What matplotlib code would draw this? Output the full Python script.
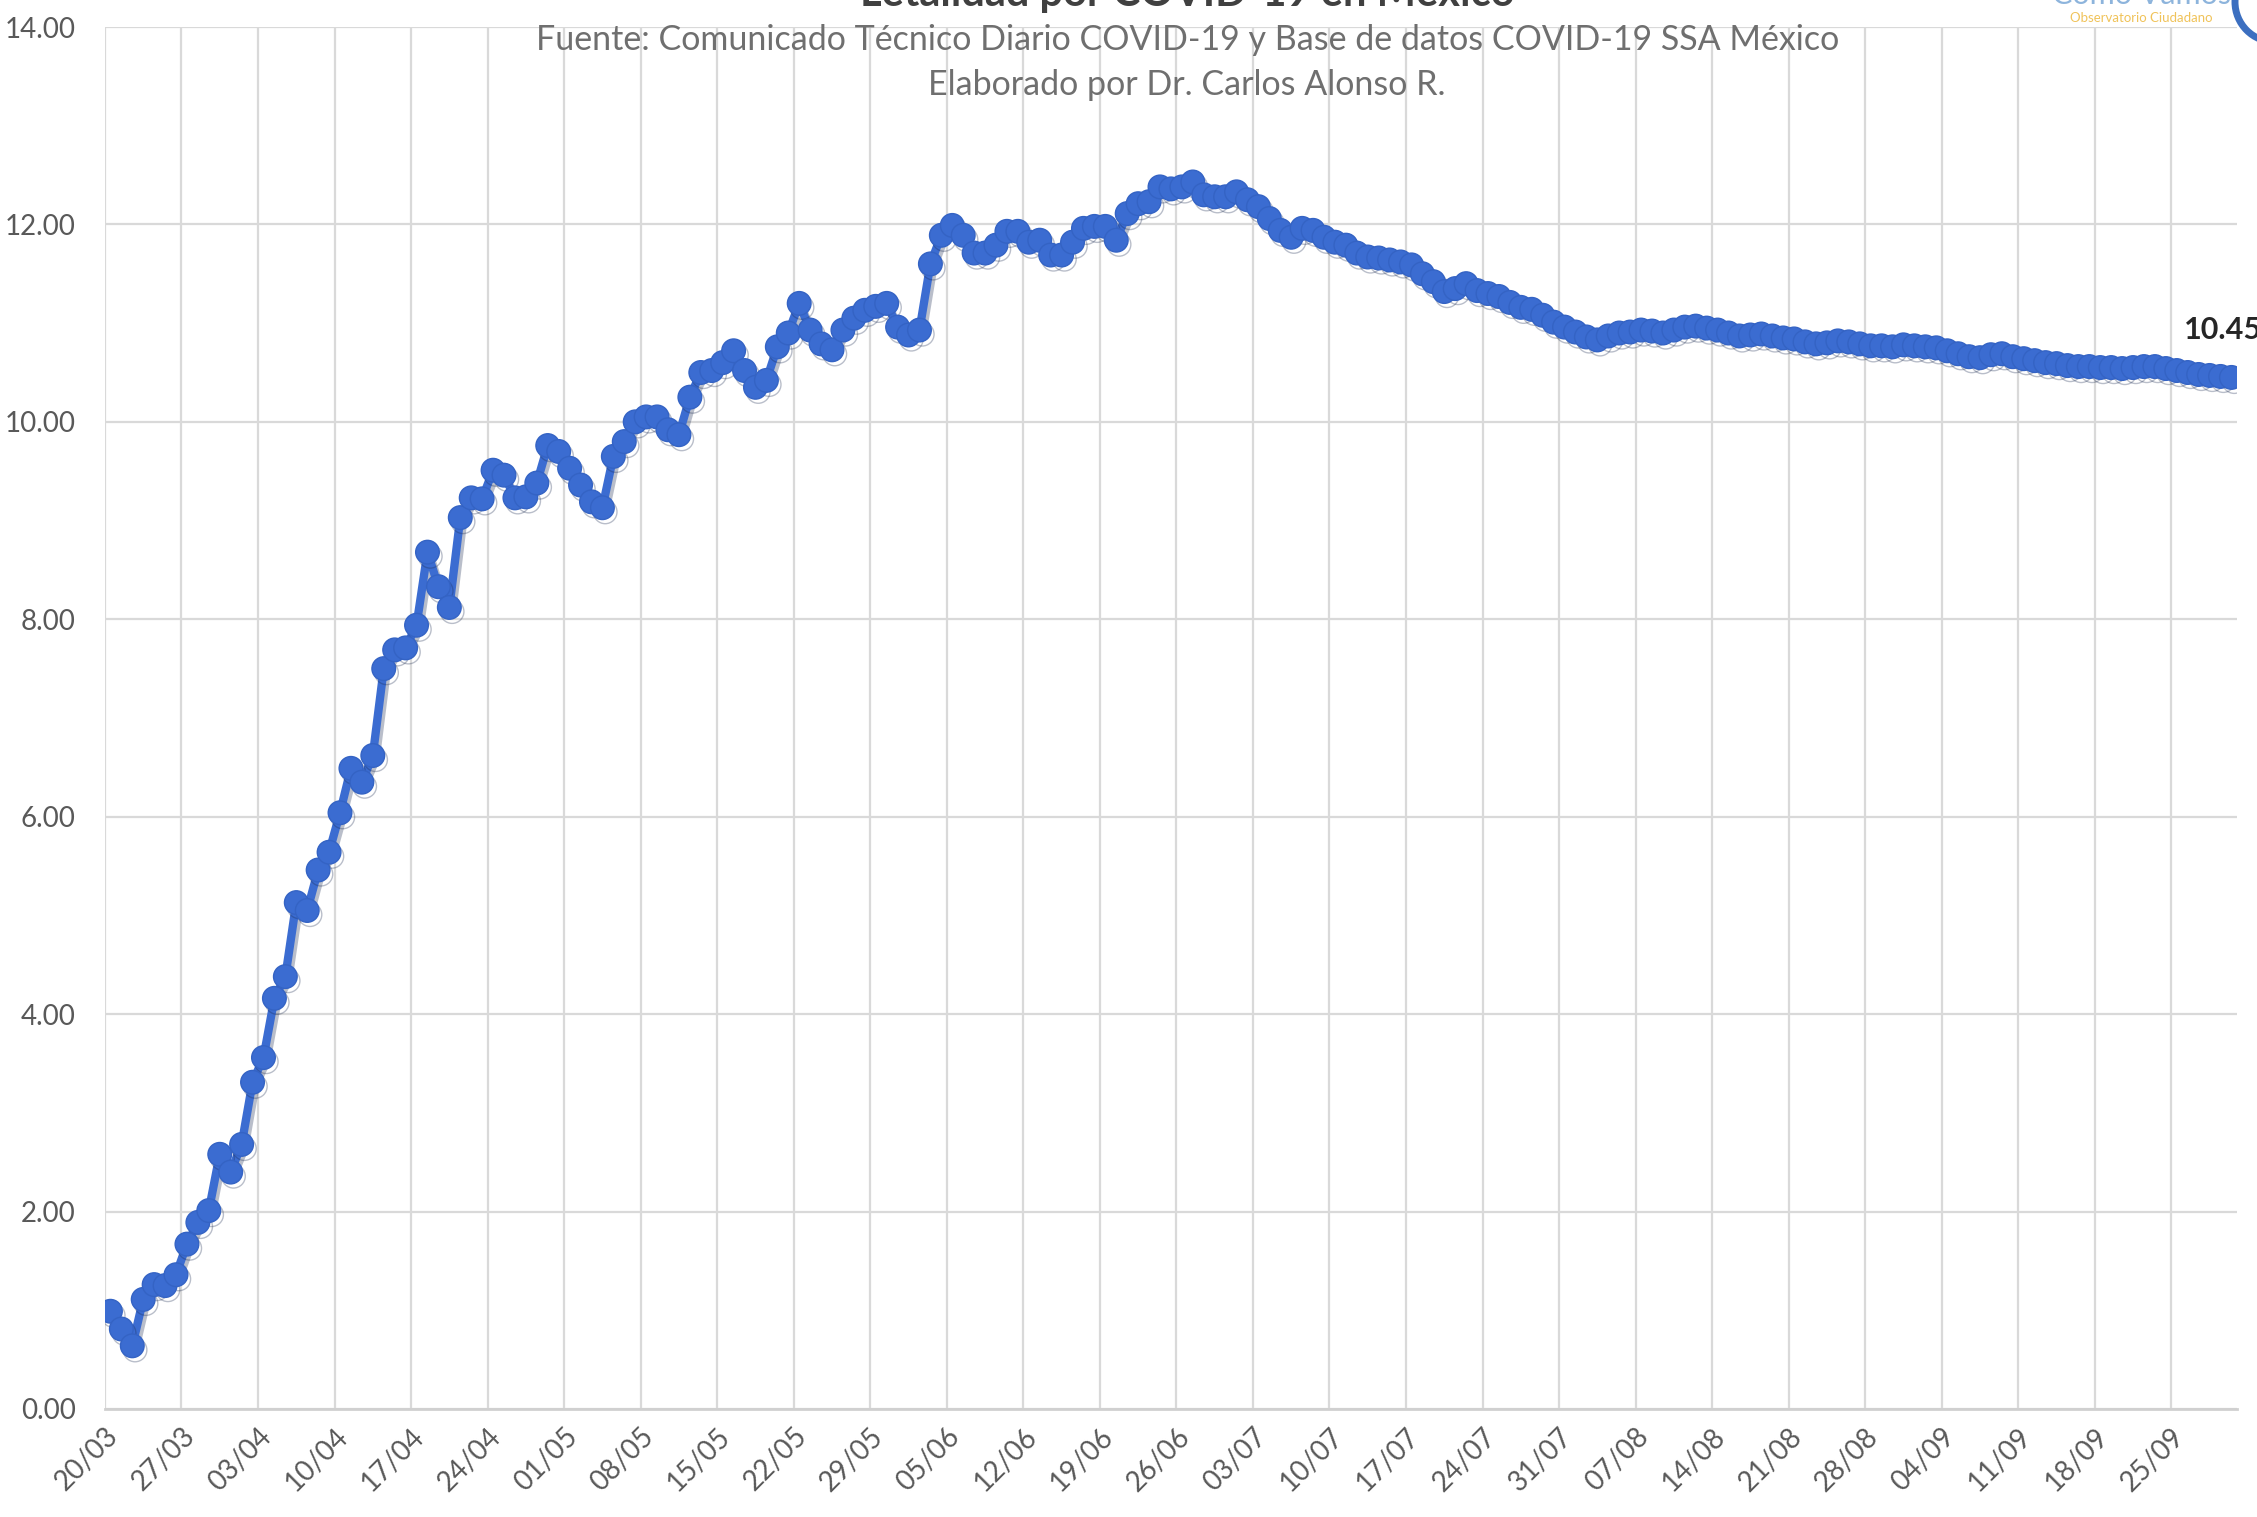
import matplotlib
matplotlib.use('Agg')
import matplotlib.pyplot as plt
import matplotlib.patheffects as pe
from matplotlib.patches import Ellipse
import numpy as np

plt.rcParams['font.family'] = ['Lato', 'DejaVu Sans']

# Daily case fatality (%) from 20/03 to 30/09
letalidad = [
    0.99, 0.81, 0.64, 1.11, 1.26, 1.25, 1.36, 1.67, 1.89, 2.01,
    2.58, 2.40, 2.68, 3.31, 3.56, 4.16, 4.38, 5.13, 5.05, 5.46,
    5.64, 6.04, 6.49, 6.35, 6.62, 7.50, 7.69, 7.71, 7.94, 8.68,
    8.33, 8.12, 9.03, 9.23, 9.22, 9.51, 9.46, 9.23, 9.24, 9.38,
    9.76, 9.70, 9.53, 9.36, 9.19, 9.13, 9.65, 9.80, 10.00, 10.05,
    10.05, 9.92, 9.87, 10.25, 10.50, 10.52, 10.60, 10.72, 10.52, 10.35,
    10.42, 10.76, 10.90, 11.20, 10.93, 10.79, 10.73, 10.93, 11.05, 11.13,
    11.17, 11.20, 10.96, 10.88, 10.93, 11.60, 11.89, 11.99, 11.89, 11.71,
    11.71, 11.79, 11.93, 11.93, 11.82, 11.84, 11.69, 11.69, 11.82, 11.96,
    11.98, 11.98, 11.84, 12.11, 12.21, 12.23, 12.38, 12.36, 12.38, 12.43,
    12.30, 12.28, 12.28, 12.33, 12.25, 12.18, 12.06, 11.94, 11.87, 11.96,
    11.94, 11.87, 11.82, 11.79, 11.71, 11.67, 11.66, 11.64, 11.62, 11.59,
    11.50, 11.42, 11.32, 11.35, 11.40, 11.33, 11.30, 11.27, 11.21, 11.16,
    11.14, 11.08, 11.01, 10.96, 10.91, 10.86, 10.83, 10.87, 10.90, 10.91,
    10.93, 10.92, 10.90, 10.93, 10.96, 10.97, 10.95, 10.93, 10.90, 10.87,
    10.88, 10.89, 10.87, 10.85, 10.84, 10.81, 10.79, 10.80, 10.82, 10.81,
    10.79, 10.77, 10.77, 10.76, 10.78, 10.77, 10.76, 10.75, 10.72, 10.69,
    10.66, 10.65, 10.68, 10.69, 10.66, 10.64, 10.62, 10.60, 10.59, 10.57,
    10.56, 10.56, 10.55, 10.55, 10.54, 10.55, 10.56, 10.56, 10.54, 10.52,
    10.50, 10.48, 10.47, 10.46, 10.45,
]

semanas = ['20/03', '27/03', '03/04', '10/04', '17/04', '24/04', '01/05',
           '08/05', '15/05', '22/05', '29/05', '05/06', '12/06', '19/06',
           '26/06', '03/07', '10/07', '17/07', '24/07', '31/07', '07/08',
           '14/08', '21/08', '28/08', '04/09', '11/09', '18/09', '25/09']

y_ticks = [0, 2, 4, 6, 8, 10, 12, 14]

titulo = 'Letalidad por COVID-19 en México'
fuente = 'Fuente: Comunicado Técnico Diario COVID-19 y Base de datos COVID-19 SSA México'
autor = 'Elaborado por Dr. Carlos Alonso R.'

x = np.arange(len(letalidad))

fig = plt.figure(figsize=(22.57, 15.17), dpi=100)
ax = fig.add_axes([0.0465, 0.0712, 0.9446, 0.911])

ax.plot(x, letalidad, color='#3b6cd1', lw=6, marker='o', markersize=17,
        markerfacecolor='#3b6cd1', markeredgecolor='#3463c4', markeredgewidth=1,
        path_effects=[pe.SimpleLineShadow(offset=(2, -3), shadow_color='#1a2a50', alpha=0.3),
                      pe.Normal()], zorder=3)

# last value label
ax.text(x[-1] - 4.3, letalidad[-1] + 0.48, f'{letalidad[-1]:.2f}', fontsize=22,
        fontweight='bold', color='#262626', ha='left', va='center', clip_on=False)

ax.set_xlim(-0.5, len(letalidad) - 0.5)
ax.set_ylim(0, 14)
ax.set_yticks(y_ticks)
ax.set_yticklabels([f'{v:.2f}' for v in y_ticks])
ax.set_xticks(np.arange(0, len(letalidad), 7)[:len(semanas)] - 0.5)
ax.set_xticklabels(semanas, rotation=45, ha='right', rotation_mode='anchor')

ax.tick_params(axis='both', length=0, labelsize=20, labelcolor='#595959')
ax.tick_params(axis='y', pad=21)
ax.tick_params(axis='x', pad=10)

ax.grid(True, color='#d9d9d9', lw=1.6)
ax.set_axisbelow(True)
for s in ['top', 'right', 'left']:
    ax.spines[s].set_visible(False)
ax.spines['bottom'].set_color('#d0d0d0')
ax.spines['bottom'].set_linewidth(2)

# title (cut at the top like the original), subtitles
fig.text(0.526, 1 - 6 / 1517, titulo, fontsize=30, fontweight='bold', color='#404040',
         ha='center', va='baseline')
fig.text(0.526, 1 - 40 / 1517, fuente, fontsize=24.5, color='#6f6f6f', ha='center', va='center')
fig.text(0.526, 1 - 85 / 1517, autor, fontsize=24.5, color='#6f6f6f', ha='center', va='center')

# logo remnants top right
fig.text(2141 / 2257, 1 - 4 / 1517, 'Cómo Vamos', fontsize=22, color='#8db4dc',
         ha='center', va='baseline')
fig.text(2141 / 2257, 1 - 18 / 1517, 'Observatorio Ciudadano', fontsize=9.5, color='#f0c35a',
         ha='center', va='center')
fig.patches.append(Ellipse((2275 / 2257, 1 - 2 / 1517), 80 / 2257, 80 / 1517,
                           transform=fig.transFigure, fill=False, ec='#3c6fc0', lw=5))

fig.savefig('out.png', dpi=100, facecolor='white')
